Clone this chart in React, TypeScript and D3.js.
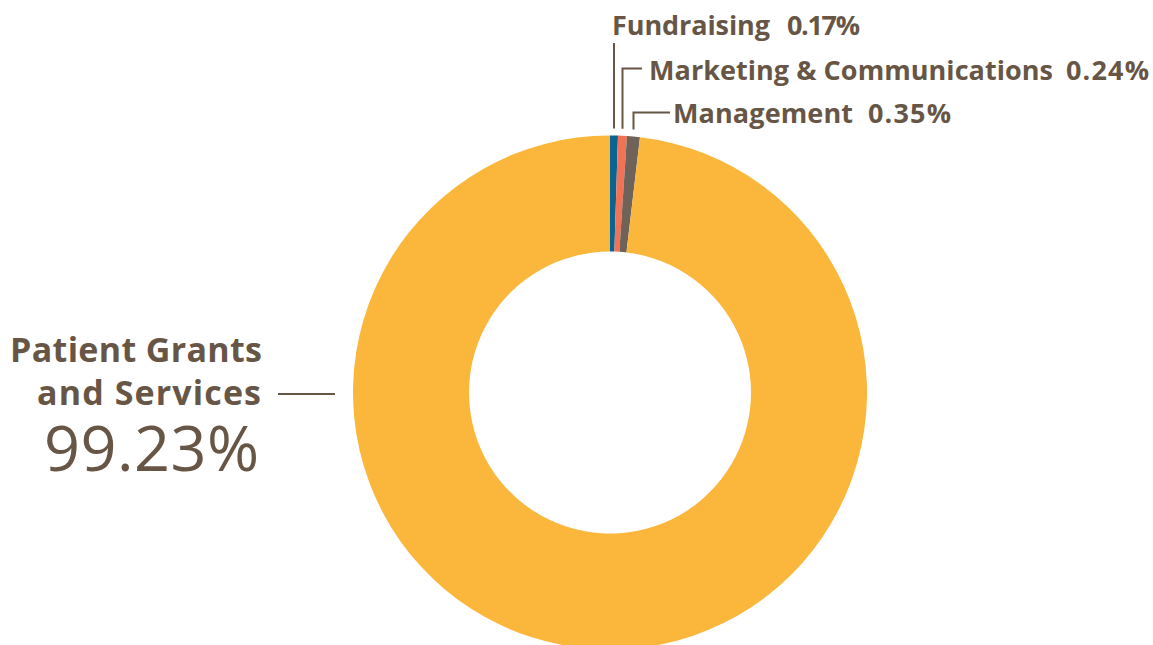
import React from "react";
import * as d3 from "d3";

// Categories and labelled values
const categories = ["Fundraising", "Marketing & Communications", "Management", "Patient Grants and Services"];
const labelPercents = ["0.17%", "0.24%", "0.35%", "99.23%"];
// Slice sweep as drawn in the picture (small slices are shown enlarged)
const drawnShares = [0.495, 0.558, 0.808, 98.139];
const colors = ["#0b6391", "#f27255", "#6f6359", "#fbb63c"];

const W = 1153;
const H = 645;
const CX = 610;
const CY = 392.5;
const R_OUT = 257;
const R_IN = 141;
const TEXT = "#675646";
const FONT = "'Open Sans', Lato, sans-serif";

export default function App() {
  const pie = d3.pie<number>().sort(null).value((d) => d);
  const arcs = pie(drawnShares);
  const arcGen = d3.arc<d3.PieArcDatum<number>>().innerRadius(R_IN).outerRadius(R_OUT);

  // small-slice labels: rows at the top (layout only)
  const rows = [
    { i: 0, baseline: 35, textX: 612, nameW: 158, pctX: 787, pctW: 73, hookY: null as number | null, hookEnd: 0 },
    { i: 1, baseline: 80, textX: 649, nameW: 404, pctX: 1066, pctW: 83, hookY: 68.5, hookEnd: 642 },
    { i: 2, baseline: 123, textX: 673, nameW: 180, pctX: 868, pctW: 83, hookY: 112.5, hookEnd: 670 },
  ];

  return (
    <svg width={W} height={H} style={{ position: "absolute", left: 0, top: 0 }} fontFamily={FONT}>
      <g transform={`translate(${CX},${CY})`}>
        {arcs.map((a, k) => (
          <path key={k} d={arcGen(a) || ""} fill={colors[k]} />
        ))}
      </g>
      {rows.map((r) => {
        const a = arcs[r.i];
        const mid = (a.startAngle + a.endAngle) / 2;
        const lx = CX + R_OUT * Math.sin(mid);
        const ly = CY - R_OUT * Math.cos(mid) - 7;
        const topY = r.hookY === null ? 43 : r.hookY;
        const d = r.hookY === null
          ? `M${lx},${ly}V${topY}`
          : `M${lx},${ly}V${topY}H${r.hookEnd}`;
        return (
          <g key={r.i} fill={TEXT} fontSize={27} fontWeight={700}>
            <path d={d} fill="none" stroke={TEXT} strokeWidth={2} />
            <text x={r.textX} y={r.baseline} textLength={r.nameW} lengthAdjust="spacing">
              {categories[r.i]}
            </text>
            <text x={r.pctX} y={r.baseline} textLength={r.pctW} lengthAdjust="spacing">
              {labelPercents[r.i]}
            </text>
          </g>
        );
      })}
      {/* Big slice label */}
      <g fill={TEXT} textAnchor="end">
        <text x={262} y={362} fontSize={34} fontWeight={700} textLength={252} lengthAdjust="spacing">Patient Grants</text>
        <text x={261} y={405} fontSize={34} fontWeight={700} textLength={224} lengthAdjust="spacing">and Services</text>
        <text x={259} y={471} fontSize={63} fontWeight={400} textLength={215} lengthAdjust="spacing">{labelPercents[3]}</text>
      </g>
      <line x1={278} x2={335} y1={394} y2={394} stroke={TEXT} strokeWidth={2} />
    </svg>
  );
}
